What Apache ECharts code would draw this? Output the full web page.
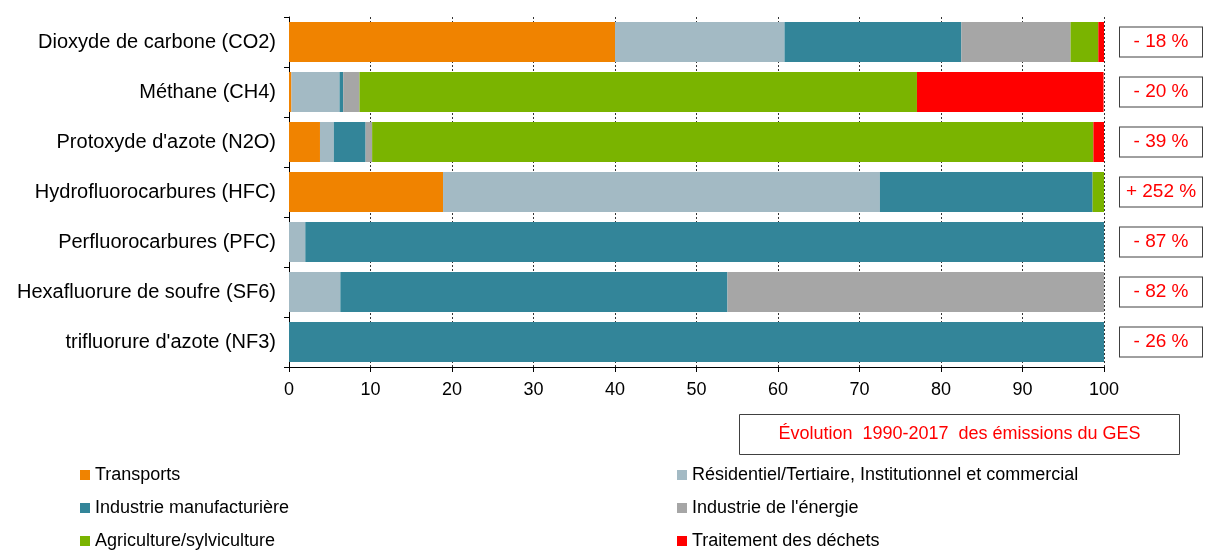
<!DOCTYPE html>
<html>
<head>
<meta charset="utf-8">
<script src="https://cdn.jsdelivr.net/npm/echarts@6/dist/echarts.min.js"></script>
<style>
  html, body { margin: 0; padding: 0; background: #fff; }
  #chart { width: 1206px; height: 550px; }
</style>
</head>
<body>
<div id="chart"></div>
<script>
// gases (top to bottom)
const gases = [
  'Dioxyde de carbone (CO2)',
  'Méthane (CH4)',
  "Protoxyde d'azote (N2O)",
  'Hydrofluorocarbures (HFC)',
  'Perfluorocarbures (PFC)',
  'Hexafluorure de soufre (SF6)',
  "trifluorure d'azote (NF3)"
]
// evolution 1990-2017
const changes = ['- 18 %', '- 20 %', '- 39 %', '+ 252 %', '- 87 %', '- 82 %', '- 26 %']

// share of each sector (%)
const transports = [40, 0.3, 3.8, 18.9, 0, 0, 0]
const residentiel = [20.8, 5.9, 1.7, 53.6, 2.0, 6.3, 0]
const manufacturiere = [21.7, 0.45, 3.9, 26.1, 98, 47.5, 100]
const energie = [13.4, 2.0, 0.8, 0, 0, 46.2, 0]
const agriculture = [3.4, 68.4, 88.5, 1.4, 0, 0, 0]
const dechets = [0.7, 22.9, 1.3, 0, 0, 0, 0]

const sectors = [
  { name: 'Transports', data: transports, color: '#F08300' },
  { name: 'Résidentiel/Tertiaire, Institutionnel et commercial', data: residentiel, color: '#A3BAC4' },
  { name: 'Industrie manufacturière', data: manufacturiere, color: '#338599' },
  { name: "Industrie de l'énergie", data: energie, color: '#A6A6A6' },
  { name: 'Agriculture/sylviculture', data: agriculture, color: '#7AB400' },
  { name: 'Traitement des déchets', data: dechets, color: '#FF0000' }
]

const font = '"Liberation Sans", Arial, sans-serif'
const chart = echarts.init(document.getElementById('chart'))

const legendBase = {
  orient: 'vertical',
  top: 465,
  height: 120,
  padding: 0,
  icon: 'rect',
  itemWidth: 10,
  itemHeight: 10,
  itemGap: 13,
  selectedMode: false,
  textStyle: { fontFamily: font, fontSize: 18, color: '#000', lineHeight: 20 }
}

chart.setOption({
  animation: false,
  legend: [
    Object.assign({ left: 80, data: [sectors[0].name, sectors[2].name, sectors[4].name] }, legendBase),
    Object.assign({ left: 677, data: [sectors[1].name, sectors[3].name, sectors[5].name] }, legendBase)
  ],
  grid: { left: 289, right: 101, top: 17, bottom: 183 },
  xAxis: {
    type: 'value',
    min: 0,
    max: 100,
    interval: 10,
    axisLine: { show: true, lineStyle: { color: '#000', width: 1 } },
    axisTick: { show: true, length: 5, lineStyle: { color: '#000' } },
    axisLabel: { fontFamily: font, fontSize: 18, color: '#000', margin: 14 },
    splitLine: { show: true, lineStyle: { color: '#333', type: [2, 2], width: 1 } }
  },
  yAxis: [
    {
      type: 'category',
      data: gases,
      inverse: true,
      axisLine: { show: true, lineStyle: { color: '#000', width: 1 } },
      axisTick: { show: true, length: 5, lineStyle: { color: '#000' } },
      axisLabel: { fontFamily: font, fontSize: 20, color: '#000', margin: 13 }
    },
    {
      type: 'category',
      data: changes,
      inverse: true,
      position: 'right',
      axisLine: { show: false },
      axisTick: { show: false },
      axisLabel: {
        margin: 16,
        formatter: v => '{b|' + v + '}',
        rich: {
          b: {
            fontFamily: font,
            fontSize: 19,
            color: '#FF0000',
            width: 74,
            height: 21,
            lineHeight: 21,
            align: 'center',
            padding: [4, 4],
            borderColor: '#404040',
            borderWidth: 1,
            backgroundColor: '#fff'
          }
        }
      }
    }
  ],
  graphic: [{
    type: 'group',
    left: 739,
    top: 414,
    children: [
      { type: 'rect', shape: { x: 0, y: 0, width: 440, height: 40 }, style: { fill: '#fff', stroke: '#404040', lineWidth: 1 } },
      {
        type: 'text',
        style: {
          x: 220, y: 20,
          text: 'Évolution  1990-2017  des émissions du GES',
          align: 'center', verticalAlign: 'middle',
          fill: '#FF0000', font: '18px ' + font
        }
      }
    ]
  }],
  series: sectors.map(s => ({
    name: s.name,
    type: 'bar',
    stack: 'total',
    yAxisIndex: 0,
    barCategoryGap: '20%',
    data: s.data,
    itemStyle: { color: s.color }
  }))
})
</script>
</body>
</html>
